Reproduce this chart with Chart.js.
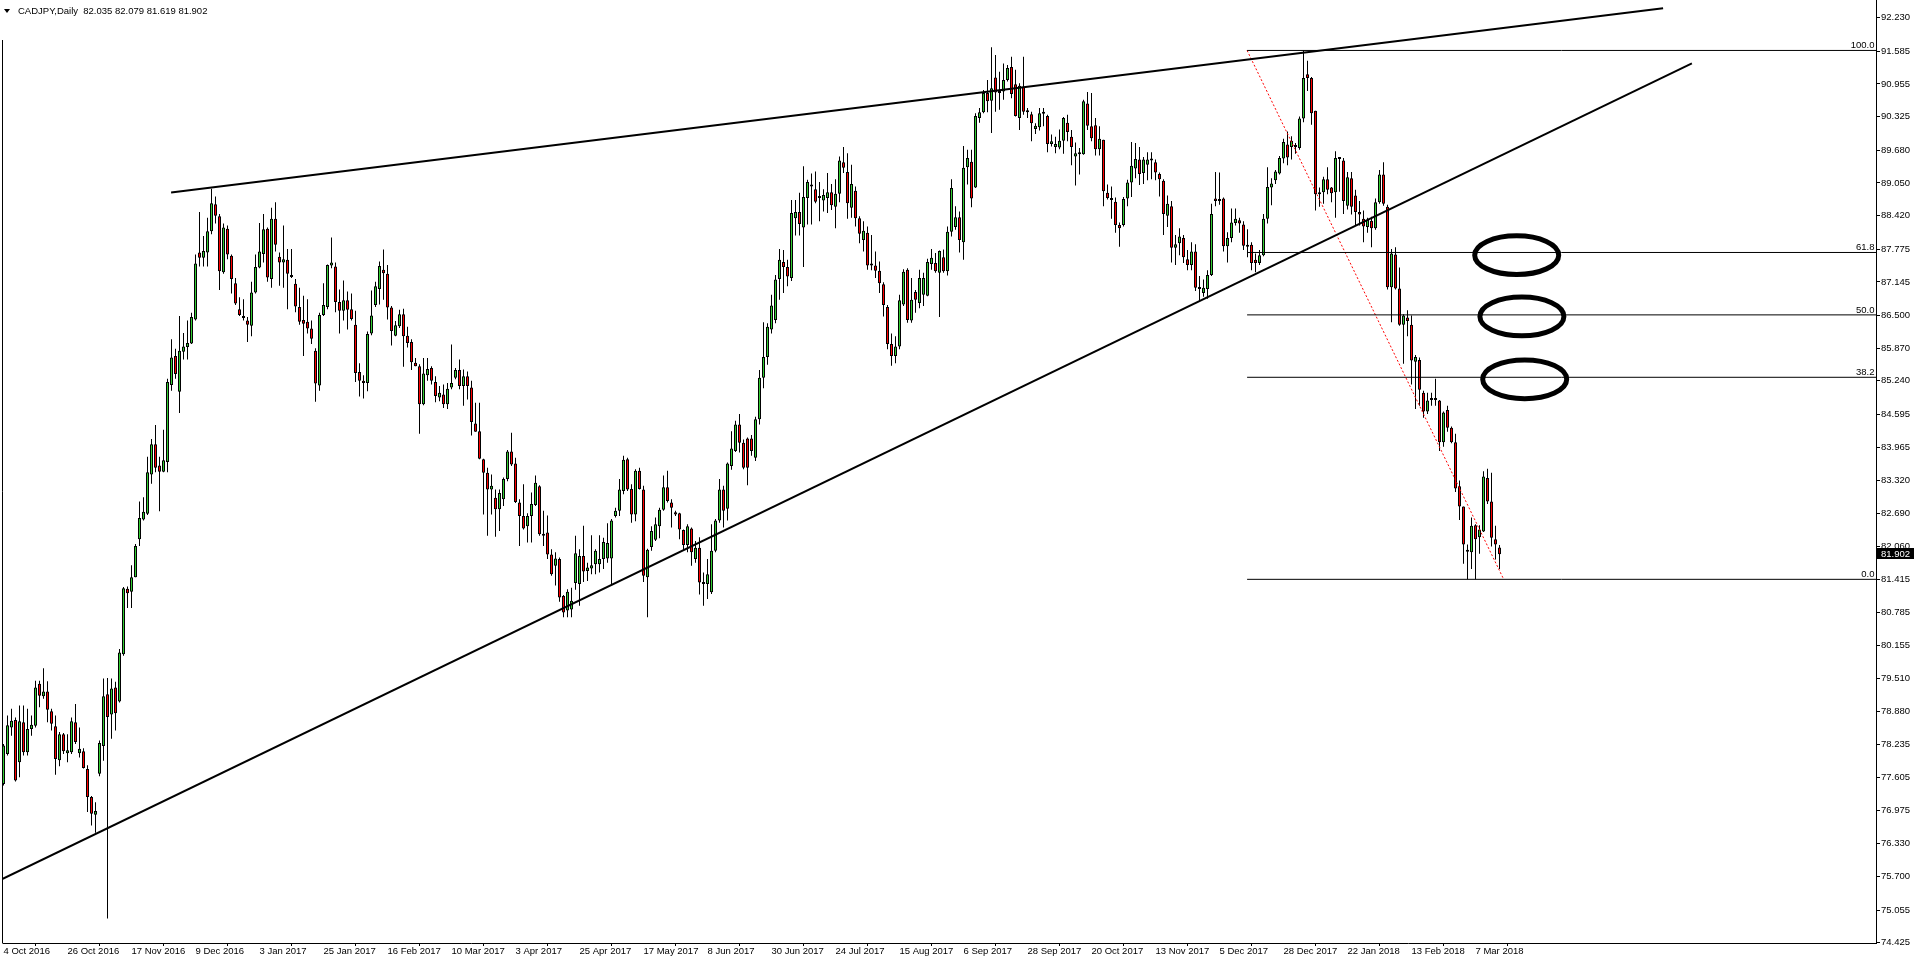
<!DOCTYPE html>
<html><head><meta charset="utf-8">
<script src="https://cdn.jsdelivr.net/npm/chart.js@4.4.0/dist/chart.umd.min.js"></script>
<style>html,body{margin:0;padding:0;background:#fff;overflow:hidden}#c{display:block}</style>
</head><body>
<canvas id="c" width="1916" height="964"></canvas>
<script>
// ---- DATA ----
const symbolTitle = 'CADJPY,Daily';
const opens = [77.48,78.06,78.57,78.71,77.90,78.67,78.09,78.54,78.60,79.41,79.17,79.26,78.88,78.59,77.94,78.44,78.07,78.09,78.67,78.07,78.11,77.77,77.23,76.89,77.68,78.21,79.21,78.82,79.34,79.07,
79.98,81.24,81.18,81.46,82.19,82.57,82.68,83.44,84.02,83.61,83.49,83.68,85.16,85.72,85.03,85.80,85.89,85.96,86.42,87.71,87.61,87.71,88.12,88.64,88.41,87.33,88.17,87.65,87.12,86.62,
86.45,86.40,86.30,86.94,87.42,87.68,88.17,87.20,88.36,87.63,87.52,87.57,87.28,87.11,86.66,86.41,86.38,86.25,85.82,85.15,86.51,86.66,87.46,87.44,86.76,86.59,86.79,86.62,86.32,85.41,
85.24,85.20,86.15,86.70,87.01,87.38,87.30,86.65,86.11,86.29,86.52,86.11,85.99,85.59,85.52,84.79,85.35,85.49,85.22,84.92,84.98,84.79,85.11,85.30,85.45,85.14,85.33,85.11,84.42,84.27,
83.73,83.47,83.15,82.99,82.77,82.96,83.35,83.88,83.65,82.90,82.64,82.44,82.64,82.85,83.21,82.29,82.32,81.90,81.68,81.81,81.10,80.82,80.84,81.35,81.33,81.87,81.58,81.63,81.71,81.71,
81.81,81.82,81.82,82.64,82.74,83.12,83.73,83.16,82.67,83.51,83.15,81.46,82.04,82.18,82.44,82.76,83.19,82.90,82.71,82.69,82.37,82.08,82.40,81.81,82.03,81.36,81.33,81.17,81.97,82.55,
83.15,82.78,83.60,83.89,84.40,84.05,84.13,84.13,83.76,84.50,85.30,85.70,86.23,86.41,87.20,87.53,87.43,87.22,88.37,88.49,88.19,88.76,89.02,88.93,88.76,88.71,88.76,88.87,88.59,88.84,
89.45,89.26,88.57,88.90,88.37,87.95,88.09,87.49,87.46,87.36,87.10,86.66,85.95,85.72,85.90,86.71,87.38,86.40,86.95,86.74,86.90,86.88,87.49,87.51,87.32,87.62,87.35,88.11,88.20,88.39,
87.91,89.35,89.46,88.96,90.30,90.41,90.78,90.63,91.08,90.81,90.81,91.03,91.28,90.95,90.30,90.90,90.42,90.37,90.09,90.12,90.39,90.34,89.80,89.74,89.73,89.86,90.21,89.94,89.56,89.60,
89.60,90.58,90.14,90.16,89.70,89.88,88.86,88.74,88.69,88.24,88.24,88.75,89.06,89.33,89.50,89.24,89.40,89.50,89.45,89.22,89.09,88.42,88.60,87.80,87.89,87.99,87.58,87.47,87.73,87.03,
86.93,87.01,87.28,88.75,88.72,88.75,87.83,87.99,88.28,88.33,88.25,87.86,87.86,87.57,87.51,87.66,88.36,88.96,89.10,89.23,89.52,89.79,89.74,89.77,89.72,90.29,91.14,91.07,90.44,88.83,
88.87,89.12,88.96,88.87,89.53,89.48,88.61,89.14,88.81,88.49,88.36,88.20,88.32,88.18,88.68,89.21,88.59,87.04,87.67,87.02,86.32,86.46,86.32,85.61,85.64,85.01,84.65,84.88,84.88,84.86,
84.06,84.68,84.34,84.06,83.21,82.82,81.98,81.94,82.46,82.23,82.34,83.37,82.92,82.19,82.035];
const highs = [78.25,78.80,78.93,78.76,78.99,78.99,78.93,78.80,79.47,79.47,79.71,79.46,78.93,78.80,78.48,78.46,78.44,78.76,79.02,78.57,78.17,77.84,77.25,77.13,78.32,79.51,79.52,79.51,79.45,80.08,
81.27,81.28,81.69,82.10,82.92,83.00,83.78,84.12,84.39,83.78,84.30,85.28,86.04,85.86,86.49,86.16,86.40,86.55,87.67,88.49,88.03,88.38,88.94,88.79,88.45,88.27,88.23,87.67,87.22,86.85,
86.81,86.47,87.15,87.67,88.28,88.45,88.19,88.57,88.68,87.71,88.23,87.78,87.78,87.20,87.03,86.88,86.81,86.40,85.87,86.55,87.12,87.48,88.00,87.52,87.00,87.17,86.96,86.92,86.59,85.58,
85.35,86.19,86.98,87.15,87.54,87.77,87.47,86.68,86.39,86.61,86.63,86.28,86.04,85.68,85.56,85.68,85.68,85.52,85.33,85.14,85.17,85.20,85.94,85.49,85.65,85.46,85.42,85.24,84.82,84.82,
83.74,83.57,83.44,83.15,83.15,83.38,83.91,84.24,83.76,82.96,83.25,82.69,83.09,83.42,83.23,82.74,82.65,82.00,81.94,81.84,81.12,81.23,81.26,82.26,82.00,82.45,81.74,82.27,82.00,82.27,
82.22,82.50,82.58,82.80,83.35,83.80,83.76,83.25,83.54,83.57,83.22,82.01,82.44,82.61,82.80,83.42,83.51,82.96,82.74,82.70,82.38,82.48,82.42,82.16,82.23,81.55,81.81,82.48,82.58,83.35,
83.22,83.67,84.27,84.47,84.60,84.11,84.15,84.20,84.55,85.45,86.37,86.35,86.90,87.28,87.78,87.76,87.57,88.72,88.72,88.86,89.37,89.11,89.23,89.27,89.07,88.93,89.24,89.03,89.12,89.56,
89.74,89.62,89.40,88.98,88.41,88.31,88.21,88.05,87.73,87.54,87.14,86.70,86.15,86.10,86.90,87.39,87.41,87.22,86.99,87.38,87.32,87.59,87.78,87.70,87.75,87.77,88.21,89.12,88.60,88.50,
89.76,89.69,89.69,90.39,90.49,90.84,91.03,91.66,91.51,91.19,91.35,91.32,91.48,91.23,90.97,91.48,90.49,90.42,90.20,90.49,90.49,90.36,89.98,89.94,90.08,90.32,90.36,90.07,89.83,89.72,
90.65,90.80,90.78,90.30,90.14,89.88,89.02,88.98,88.77,88.29,88.78,89.11,89.84,89.82,89.74,89.55,89.64,89.64,89.50,89.25,89.12,88.81,88.70,88.05,88.18,88.05,87.76,87.91,87.87,87.26,
87.19,87.37,88.65,89.26,89.25,88.77,88.10,88.56,88.56,88.38,88.31,88.16,87.91,87.69,87.76,88.45,89.35,89.14,89.30,89.57,89.90,90.04,89.95,89.82,90.33,91.60,91.40,91.09,90.44,88.96,
89.17,89.35,88.97,89.66,89.53,89.53,89.26,89.26,88.92,88.70,88.52,88.38,88.40,88.75,89.30,89.45,88.63,87.78,87.81,87.42,86.52,86.60,86.50,85.74,85.69,85.05,85.01,85.01,85.28,84.87,
84.65,84.76,84.36,84.22,83.32,82.82,82.09,82.61,82.48,82.46,83.50,83.55,83.47,82.45,82.079];
const lows = [77.45,78.03,78.41,77.53,77.61,78.03,78.03,78.41,78.57,78.96,79.12,78.67,78.51,77.66,77.82,78.06,77.90,78.06,78.25,77.99,77.78,76.94,76.68,76.54,77.63,77.93,74.89,78.35,78.51,79.05,
79.95,80.87,80.87,81.46,82.06,82.55,82.66,83.26,83.48,82.73,83.48,83.48,85.05,85.28,84.62,85.65,85.65,85.95,86.40,87.44,87.44,87.44,88.06,88.27,86.99,87.30,87.58,86.92,86.70,86.49,
86.40,85.99,86.10,86.92,87.41,87.52,87.15,87.03,87.73,87.07,87.03,86.62,87.22,86.56,86.32,85.72,86.15,85.95,84.84,85.05,86.49,86.62,87.41,86.56,86.15,86.40,86.23,86.40,85.22,84.94,
84.90,85.04,86.12,86.66,86.71,86.80,86.42,85.92,86.10,86.26,85.51,85.88,85.45,85.52,84.22,84.77,85.24,85.17,84.83,84.85,84.72,84.70,85.08,85.27,85.08,84.76,84.88,84.19,84.26,83.73,
82.67,82.26,82.67,82.24,82.35,82.83,83.31,83.60,82.89,82.06,82.38,82.13,82.13,82.83,82.26,82.06,81.81,81.49,81.30,80.99,80.69,80.69,80.69,81.22,80.91,81.37,81.39,81.52,81.52,81.55,
81.62,81.74,81.33,82.61,82.64,83.06,83.12,82.51,82.54,83.15,81.37,80.69,81.97,82.16,82.21,82.74,82.90,82.42,82.64,82.19,81.97,81.94,81.68,81.74,81.13,80.91,81.04,81.14,81.94,82.51,
82.42,82.55,83.53,83.87,83.86,83.54,83.23,83.80,83.70,84.40,85.10,85.55,86.15,86.35,86.80,86.93,87.06,87.16,88.04,88.04,87.43,88.25,88.25,88.66,88.31,88.50,88.47,88.53,88.18,88.68,
89.24,88.36,88.38,88.21,87.89,87.73,87.38,87.37,87.22,86.93,86.48,85.85,85.53,85.58,85.85,86.68,86.36,86.36,86.55,86.64,86.68,86.87,87.38,87.32,86.47,87.32,87.27,88.02,88.15,87.71,
87.57,89.02,88.58,88.95,90.21,90.39,90.41,90.01,90.42,90.46,90.65,91.00,90.68,90.33,90.07,90.36,90.30,89.85,89.99,90.06,90.14,89.64,89.75,89.62,89.70,89.61,89.85,89.39,89.00,89.21,
89.59,90.07,89.85,89.58,89.58,88.60,88.73,88.36,88.09,87.82,88.21,88.60,88.78,89.14,89.01,89.03,89.10,89.12,89.10,88.79,88.05,88.20,87.52,87.47,87.66,87.51,87.37,87.37,86.97,86.77,
86.86,86.82,87.26,88.60,88.63,87.73,87.52,87.91,88.23,88.09,87.76,87.62,87.37,87.33,87.47,87.64,88.27,88.62,89.03,89.21,89.43,89.39,89.50,89.61,89.69,90.22,90.82,90.17,88.52,88.59,
88.65,88.83,88.68,88.38,88.88,88.45,88.54,88.44,88.23,88.23,87.91,88.09,87.81,88.15,88.65,88.61,87.00,86.37,87.00,86.30,85.57,86.10,85.17,84.70,84.76,84.53,84.60,84.76,84.76,83.89,
83.97,84.26,84.04,83.10,82.56,81.72,81.42,81.62,81.42,81.91,82.33,82.87,82.05,81.80,81.619];
const closes = [78.22,78.61,78.70,77.55,78.69,78.09,78.54,78.62,79.34,79.18,79.26,78.91,78.64,77.96,78.44,78.11,78.13,78.69,78.29,78.16,77.79,77.23,76.91,76.96,78.27,79.17,78.77,79.32,78.84,80.01,
81.25,81.15,81.46,82.06,82.60,82.72,83.48,84.02,83.57,83.49,83.71,85.22,85.69,85.37,85.82,85.90,85.97,86.47,87.50,87.61,87.74,88.12,88.66,88.42,87.35,88.19,87.67,87.20,86.73,86.51,
86.49,86.32,86.94,87.43,87.73,88.16,87.23,88.36,87.86,87.52,87.58,87.30,87.24,86.67,86.38,86.34,86.25,86.05,85.19,86.51,86.70,87.47,87.52,86.76,86.59,86.79,86.61,86.43,85.39,85.24,
85.20,86.14,86.50,87.06,87.45,87.31,86.65,86.20,86.31,86.52,86.10,85.97,85.60,85.52,84.79,85.38,85.47,85.24,84.95,85.01,84.79,85.09,85.20,85.45,85.14,85.33,85.14,84.45,84.26,83.74,
83.47,83.15,83.22,82.77,83.08,83.35,83.88,83.63,82.91,82.64,82.40,82.64,82.87,83.28,82.29,82.26,81.90,81.52,81.82,81.07,80.78,81.18,81.01,81.92,81.87,81.57,81.65,81.69,81.97,81.81,
82.14,82.12,82.55,82.74,83.15,83.72,83.15,82.67,83.51,83.16,81.49,81.99,82.35,82.48,82.76,83.19,82.93,82.80,82.67,82.38,82.08,82.44,81.94,82.03,81.36,81.33,81.52,81.97,82.55,83.15,
82.74,83.65,83.94,84.40,84.05,83.57,83.57,83.89,84.50,85.30,85.70,86.28,86.69,87.19,87.57,87.43,87.25,88.47,88.49,88.26,88.78,89.07,88.98,88.69,88.77,88.82,88.87,88.62,88.84,89.48,
89.34,88.66,89.03,88.37,88.07,88.13,87.46,87.46,87.36,87.12,86.70,85.95,85.72,85.90,86.79,87.34,86.41,86.80,86.80,87.22,87.22,87.53,87.61,87.35,87.74,87.35,88.11,88.95,88.39,87.95,
89.34,89.53,88.75,90.34,90.41,90.78,90.62,90.87,90.79,90.78,91.03,91.26,90.76,90.34,90.92,90.42,90.41,90.20,90.15,90.39,90.38,89.80,89.85,89.80,89.86,90.30,90.03,89.74,89.62,89.64,
90.62,90.15,89.91,89.70,89.90,88.89,88.76,88.72,88.24,88.18,88.74,89.06,89.38,89.51,89.22,89.50,89.50,89.48,89.25,89.12,88.45,88.65,87.80,87.87,88.02,87.62,87.47,87.73,87.03,87.01,
87.03,87.28,88.45,88.70,88.70,87.83,87.99,88.29,88.36,88.27,87.84,87.82,87.51,87.51,87.66,88.36,88.97,89.04,89.27,89.53,89.84,89.54,89.86,89.74,90.29,91.07,91.07,90.39,88.83,88.87,
89.12,88.92,88.85,89.53,89.51,88.70,89.16,88.59,88.49,88.44,88.21,88.34,88.18,88.68,89.21,88.65,87.04,87.69,87.02,86.32,86.50,86.39,85.63,85.70,85.07,84.65,84.86,84.87,84.87,84.06,
84.63,84.34,84.06,83.17,82.82,82.09,81.95,82.45,82.19,82.38,83.40,82.92,82.22,82.09,81.902];

const yTickLabels = [92.230,91.585,90.955,90.325,89.680,89.050,88.420,87.775,87.145,86.500,85.870,85.240,84.595,83.965,83.320,82.690,82.060,81.415,80.785,80.155,79.510,78.880,78.235,77.605,76.975,76.330,75.700,75.055,74.425];
const xTickBars = [0,16,32,48,64,80,96,112,128,144,160,176,192,208,224,240,256,272,288,304,320,336,352,368];
const xTickLabels = ['4 Oct 2016','26 Oct 2016','17 Nov 2016','9 Dec 2016','3 Jan 2017','25 Jan 2017','16 Feb 2017','10 Mar 2017','3 Apr 2017','25 Apr 2017','17 May 2017','8 Jun 2017','30 Jun 2017','24 Jul 2017','15 Aug 2017','6 Sep 2017','28 Sep 2017','20 Oct 2017','13 Nov 2017','5 Dec 2017','28 Dec 2017','22 Jan 2018','13 Feb 2018','7 Mar 2018'];

// drawn objects (anchor points in bar index / price)
const upperTrend = [{x:41.9, y:88.865},{x:414.9, y:92.41}];
const lowerTrend = [{x:-0.2, y:75.657},{x:422.1, y:91.352}];
const fibHigh = 91.60, fibLow = 81.42;
const fibStartBar = 310.9, fibEndBar = 375.05;
const fibLevels = [100.0, 61.8, 50.0, 38.2, 0.0];
const ellipseMarks = [{x:378.3, y:87.66},{x:379.6, y:86.48},{x:380.3, y:85.27}];

// ---- CHART ----
const FONT = '"Liberation Sans", Arial, sans-serif';
const X_MIN = -0.125, X_MAX = 468.125, Y_MIN = 74.42, Y_MAX = 92.571;
const idx = opens.map((_, i) => i);
const wickData = idx.map(i => ({x: i, y: [lows[i], highs[i]]}));
const bodyData = idx.map(i => ({x: i, y: [opens[i], closes[i]]}));
const bodyColors = idx.map(i => closes[i] >= opens[i] ? '#32cd32' : '#ff0000');
const fibPrice = l => fibLow + (fibHigh - fibLow) * l / 100;
const fibSets = fibLevels.map(l => ({
  type: 'line', data: [{x: fibStartBar, y: fibPrice(l)}, {x: X_MAX, y: fibPrice(l)}],
  borderColor: '#000', borderWidth: 1, pointRadius: 0, order: 1, clip: 0
}));
const last = opens.length - 1;

const overlay = {
  id: 'overlay',
  afterDatasetsDraw(chart) {
    const {ctx, chartArea: a, scales: {x, y}} = chart;
    ctx.save();
    ctx.beginPath(); ctx.rect(a.left, a.top, a.right - a.left, a.bottom - a.top); ctx.clip();
    ctx.strokeStyle = '#000'; ctx.lineWidth = 5;
    ellipseMarks.forEach(e => {
      ctx.beginPath();
      ctx.ellipse(x.getPixelForValue(e.x), y.getPixelForValue(e.y), 42, 19.4, 0, 0, Math.PI * 2);
      ctx.stroke();
    });
    ctx.fillStyle = '#000'; ctx.font = '9.5px ' + FONT; ctx.textAlign = 'right'; ctx.textBaseline = 'alphabetic';
    fibLevels.forEach(l => ctx.fillText(l.toFixed(1), a.right - 1.5, Math.round(y.getPixelForValue(fibPrice(l))) - 2));
    ctx.restore();
  },
  afterDraw(chart) {
    const {ctx, chartArea: a, scales: {y}} = chart;
    ctx.save();
    ctx.strokeStyle = '#000'; ctx.lineWidth = 1;
    ctx.beginPath(); ctx.moveTo(2.5, 40); ctx.lineTo(2.5, a.bottom + 0.5); ctx.stroke();
    ctx.fillStyle = '#000';
    ctx.beginPath(); ctx.moveTo(4, 9); ctx.lineTo(10, 9); ctx.lineTo(7, 13); ctx.closePath(); ctx.fill();
    ctx.font = '9.5px ' + FONT; ctx.textAlign = 'left'; ctx.textBaseline = 'middle';
    ctx.fillText(symbolTitle + '  ' + [opens[last], highs[last], lows[last], closes[last]].map(v => v.toFixed(3)).join(' '), 18, 11);
    const py = Math.round(y.getPixelForValue(closes[last]));
    ctx.fillStyle = '#000'; ctx.fillRect(a.right + 1, py - 6, 37, 11);
    ctx.fillStyle = '#fff'; ctx.textBaseline = 'middle';
    ctx.fillText(closes[last].toFixed(3), a.right + 5, py);
    ctx.restore();
  }
};

Chart.defaults.font.family = FONT;
Chart.defaults.font.size = 9.5;
Chart.defaults.color = '#000';

new Chart(document.getElementById('c'), {
  type: 'bar',
  data: {
    datasets: [
      {type: 'line', data: upperTrend, borderColor: '#000', borderWidth: 2, pointRadius: 0, order: 1},
      {type: 'line', data: lowerTrend, borderColor: '#000', borderWidth: 2, pointRadius: 0, order: 1},
      ...fibSets,
      {type: 'line', data: [{x: fibStartBar, y: fibHigh}, {x: fibEndBar, y: fibLow}], borderColor: '#ff0000', borderWidth: 1, borderDash: [2, 2], pointRadius: 0, order: 1},
      {type: 'bar', data: wickData, backgroundColor: '#000', barThickness: 1, grouped: false, inflateAmount: 0, order: 3},
      {type: 'bar', data: bodyData, backgroundColor: bodyColors, borderColor: '#000', borderWidth: 1, borderSkipped: false, barThickness: 3, grouped: false, inflateAmount: 0, minBarLength: 2, order: 2}
    ]
  },
  options: {
    responsive: false, animation: false, devicePixelRatio: 1,
    layout: {padding: {left: 3, right: 0, top: 0, bottom: 0}},
    plugins: {legend: {display: false}, tooltip: {enabled: false}, title: {display: false}},
    scales: {
      x: {
        type: 'linear', min: X_MIN, max: X_MAX, offset: false,
        afterFit: s => { s.height = 21; s.paddingLeft = 0; s.paddingRight = 0; },
        afterBuildTicks: s => { s.ticks = xTickBars.map(v => ({value: v})); },
        grid: {display: true, drawOnChartArea: false, drawTicks: true, tickLength: 3, color: '#000'},
        border: {display: true, color: '#000', width: 1},
        ticks: {autoSkip: false, maxRotation: 0, minRotation: 0, align: 'start', padding: 0,
          callback: (v, i) => xTickLabels[i]}
      },
      y: {
        type: 'linear', position: 'right', min: Y_MIN, max: Y_MAX,
        afterFit: s => { s.width = 40; s.paddingTop = 0; s.paddingBottom = 0; },
        afterBuildTicks: s => { s.ticks = yTickLabels.map(v => ({value: v})); },
        grid: {display: true, drawOnChartArea: false, drawTicks: true, tickLength: 4, color: '#000'},
        border: {display: true, color: '#000', width: 1},
        ticks: {autoSkip: false, padding: 1, callback: v => Number(v).toFixed(3)}
      }
    }
  },
  plugins: [overlay]
});
</script>
</body></html>
